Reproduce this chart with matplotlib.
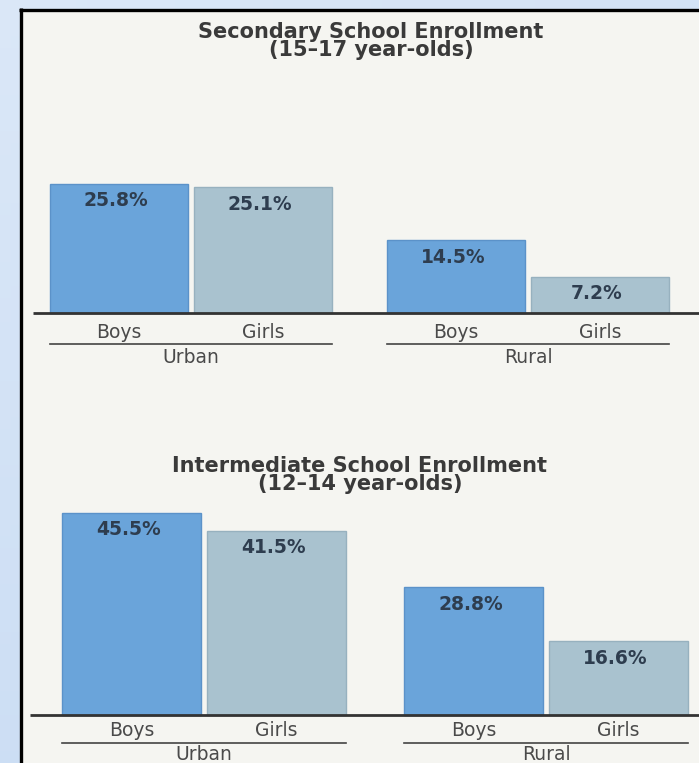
"""
Skolepåmelding etter kjønn og bosted: to stolpediagram over hverandre.
"""

import numpy as np
import matplotlib.pyplot as plt
from matplotlib.colors import LinearSegmentedColormap

W, H, DPI = 699, 763, 100

GRUPPER = ["Urban", "Rural"]
KJONN = ["Boys", "Girls"]

SEC_TITTEL = "Secondary School Enrollment\n(15\u201317 year-olds)"
SEC_VERDIER = [25.8, 25.1, 14.5, 7.2]

INT_TITTEL = "Intermediate School Enrollment\n(12\u201314 year-olds)"
INT_VERDIER = [45.5, 41.5, 28.8, 16.6]

FARGER = {"Boys": "#6aa4da", "Girls": "#a9c2cf"}
KANT = {"Boys": "#5b92c9", "Girls": "#97b1bf"}

# plassering i piksler (fra toppen av figuren)
OPPSETT = [
    dict(tittel=SEC_TITTEL, verdier=SEC_VERDIER, tittel_y=41, tittel_x=371,
         base=313, px_per=5.0, venstre=50, bredde=138, mellom=6, gruppeavstand=55,
         linje_fra=33, etikett_dy=20, strek_dy=31, gruppe_dy=45),
    dict(tittel=INT_TITTEL, verdier=INT_VERDIER, tittel_y=475, tittel_x=360,
         base=715, px_per=4.44, venstre=62, bredde=139, mellom=6, gruppeavstand=58,
         linje_fra=30, etikett_dy=16, strek_dy=28, gruppe_dy=40),
]


def tegn_bakgrunn(fig):
    bg = fig.add_axes([0, 0, 1, 1], zorder=0)
    bg.set_xlim(0, W)
    bg.set_ylim(H, 0)
    bg.axis("off")
    # lys blå toning bak siden
    gy = np.linspace(0, 1, 64)[:, None]
    gx = np.linspace(0, 1, 64)[None, :]
    tone = 0.55 + 0.3 * gy + 0.15 * gx
    cmap = LinearSegmentedColormap.from_list("bl", ["#dde9f8", "#c6daf3"])
    bg.imshow(tone, extent=(0, W, H, 0), cmap=cmap, aspect="auto", vmin=0.5, vmax=1.0)
    bg.add_patch(plt.Rectangle((21, 9), W - 21, H - 9, color="#f5f5f1", lw=0))
    bg.plot([19, W], [9.5, 9.5], color="black", lw=2.4, solid_capstyle="butt")
    bg.plot([20.5, 20.5], [8, H], color="black", lw=2.4, solid_capstyle="butt")


def tegn_diagram(fig, o):
    ax = fig.add_axes([0, 0, 1, 1], zorder=2)
    ax.patch.set_alpha(0)
    ax.axis("off")
    s = o["px_per"]
    ax.set_xlim(0, W)
    ax.set_ylim(-(H - o["base"]) / s, o["base"] / s)

    posisjoner, navn = [], []
    for g in range(len(GRUPPER)):
        for k in range(len(KJONN)):
            x = o["venstre"] + g * (2 * o["bredde"] + o["mellom"] + o["gruppeavstand"]) \
                + k * (o["bredde"] + o["mellom"])
            posisjoner.append(x + o["bredde"] / 2)
            navn.append(KJONN[k])

    for x, v, k in zip(posisjoner, o["verdier"], navn):
        ax.bar(x, v, width=o["bredde"], color=FARGER[k], edgecolor=KANT[k], lw=1.0)
        ax.text(x - 3, v - 17 / s, f"{v}%", ha="center", va="center",
                fontsize=13.5, fontweight="bold", color="#2e3d4f")
        ax.text(x, -o["etikett_dy"] / s, k, ha="center", va="center",
                fontsize=13.5, color="#4a4a4a")

    # grunnlinje
    ax.plot([o["linje_fra"], W], [0, 0], color="#333333", lw=2.0,
            solid_capstyle="butt")

    # gruppestrek og gruppenavn
    for g, gruppe in enumerate(GRUPPER):
        fra = posisjoner[2 * g] - o["bredde"] / 2
        til = posisjoner[2 * g + 1] + o["bredde"] / 2
        ax.plot([fra, til], [-o["strek_dy"] / s] * 2, color="#444444", lw=1.2)
        ax.text((fra + til) / 2, -o["gruppe_dy"] / s, gruppe, ha="center",
                va="center", fontsize=13.5, color="#4a4a4a")

    ax.text(o["tittel_x"], (o["base"] - o["tittel_y"]) / s, o["tittel"],
            ha="center", va="center", fontsize=15, fontweight="bold",
            color="#3a3a3a", linespacing=0.85)


def main():
    fig = plt.figure(figsize=(W / DPI, H / DPI), dpi=DPI)
    tegn_bakgrunn(fig)
    for o in OPPSETT:
        tegn_diagram(fig, o)
    fig.savefig("out.png", dpi=DPI)
    plt.close(fig)


if __name__ == "__main__":
    main()
